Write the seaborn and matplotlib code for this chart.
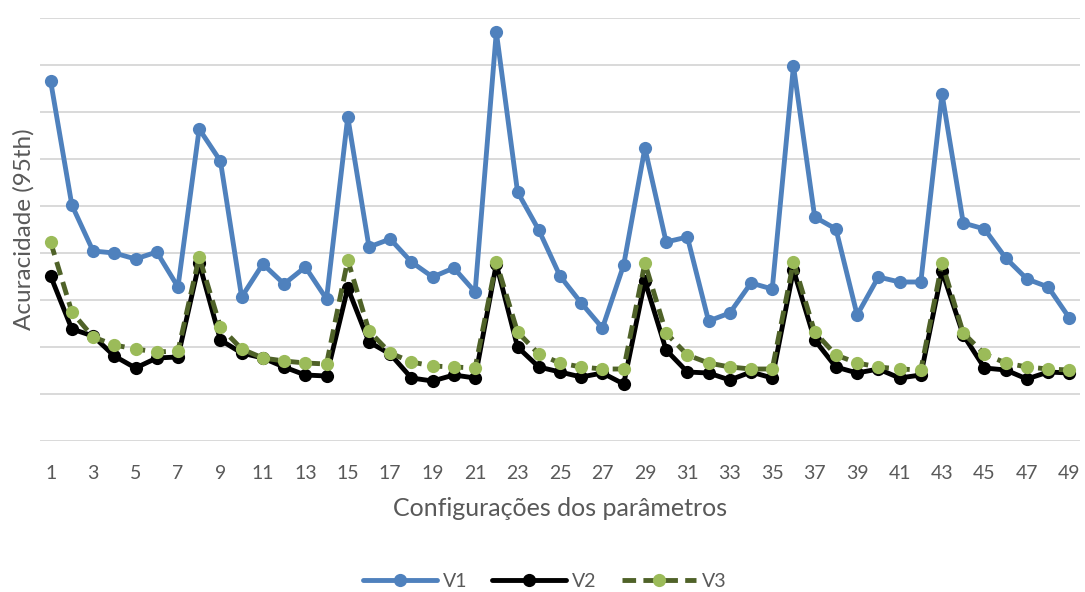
import numpy as np
import pandas as pd
import matplotlib
matplotlib.use("Agg")
import matplotlib.pyplot as plt
import seaborn as sns

configs = list(range(1, 50))
v1 = [360, 236, 190, 188, 182, 189, 154, 312, 280, 144, 177, 157, 174, 142, 324, 194, 202, 179, 164, 173,
      149, 409, 249, 211, 165, 138, 113, 176, 293, 199, 204, 120, 128, 158, 152, 375, 224, 212, 126, 164,
      159, 159, 347, 218, 212, 183, 162, 154, 123]
v2 = [165, 112, 105, 85, 73, 83, 84, 178, 101, 88, 83, 74, 66, 65, 153, 99, 87, 63, 60, 66,
      63, 177, 94, 74, 69, 64, 68, 57, 160, 91, 69, 68, 61, 69, 63, 171, 101, 74, 68, 72,
      63, 66, 170, 106, 73, 71, 62, 69, 68]
v3 = [199, 129, 104, 96, 92, 89, 90, 184, 114, 92, 83, 80, 78, 77, 181, 110, 88, 79, 75, 74,
      73, 179, 109, 87, 78, 74, 72, 72, 178, 108, 86, 78, 74, 72, 72, 179, 109, 86, 78, 74,
      72, 71, 178, 108, 87, 78, 74, 72, 71]
series_names = ["V1", "V2", "V3"]
xticks = list(range(1, 50, 2))

sns.set_theme(style="white")
plt.rcParams['font.family'] = ['Lato', 'DejaVu Sans']

fig = plt.figure(figsize=(10.85, 5.92), dpi=100)
ax = fig.add_axes([40/1085, 1 - 441/592, 1040/1085, 423/592])

df = pd.DataFrame({"x": configs, "V1": v1, "V2": v2, "V3": v3})

lw = 3.5
ms = 9.5
sns.lineplot(data=df, x="x", y="V1", ax=ax, color="#4F81BD", lw=lw, marker="o",
             markersize=ms, markeredgewidth=0, label="V1", zorder=3)
sns.lineplot(data=df, x="x", y="V2", ax=ax, color="black", lw=lw, marker="o",
             markersize=ms, markeredgewidth=0, label="V2", zorder=4)
sns.lineplot(data=df, x="x", y="V3", ax=ax, color="#4F6228", lw=lw, marker="o",
             markersize=ms, markeredgewidth=0, markerfacecolor="#9BBB59",
             label="V3", zorder=5)
for l in ax.lines:
    if l.get_label() == "V3":
        l.set_linestyle((0, (2.8, 1.5)))

ax.set_xlim(0.5, 49.5)
ax.set_ylim(0, 423)
ax.set_yticks(np.arange(0, 424, 47))
ax.yaxis.grid(True, color="#D9D9D9", lw=1.4)
ax.set_axisbelow(True)
ax.tick_params(axis="y", left=False, labelleft=False)
ax.set_xticks(xticks)
ax.set_xticklabels([str(t) for t in xticks])
ax.tick_params(axis="x", bottom=False, labelsize=14, colors="#595959", pad=11)
for s in ["top", "right", "left", "bottom"]:
    ax.spines[s].set_visible(False)

ax.set_xlabel("Configurações dos parâmetros", fontsize=18, color="#595959", labelpad=11)
ax.set_ylabel("Acuracidade (95th)", fontsize=17.5, color="#595959", labelpad=4)

leg = ax.legend(loc="upper center", bbox_to_anchor=(0.485, -0.27), ncol=3, frameon=False,
                fontsize=14, handlelength=3.8, columnspacing=1.3, handletextpad=0.3)
for t in leg.get_texts():
    t.set_color("#595959")

fig.savefig("out.png", dpi=100)
